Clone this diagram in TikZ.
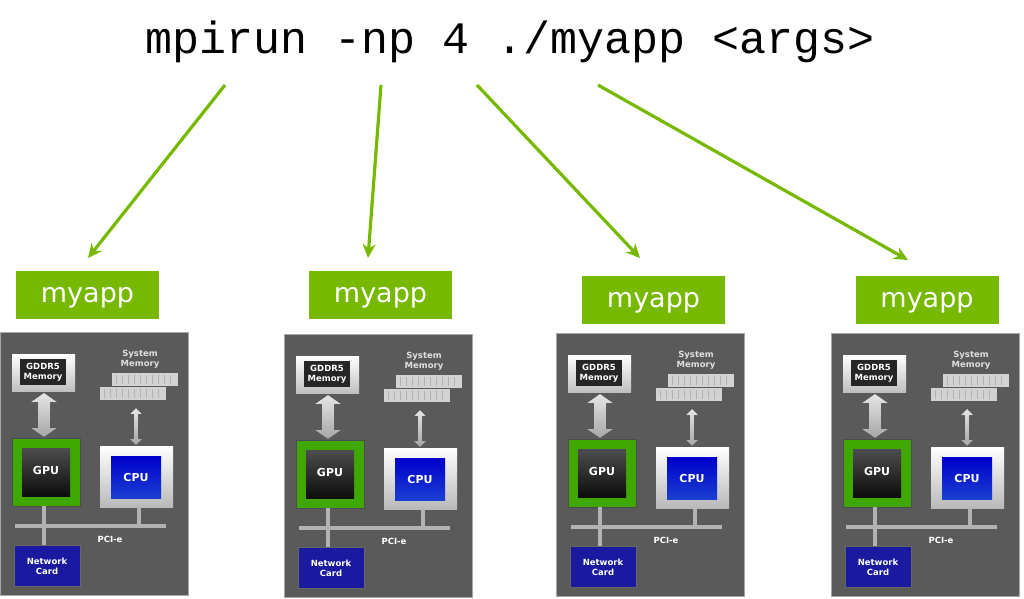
\documentclass[tikz,border=0pt]{standalone}
\usepackage{fontspec}
\setmainfont{DejaVu Sans}
\newfontfamily\monof{Liberation Mono}
\usetikzlibrary{arrows.meta}
\definecolor{nv}{HTML}{76B900}
\definecolor{gpugreen}{HTML}{3FA800}
\definecolor{panel}{HTML}{5A5A5A}
\definecolor{cpublue}{HTML}{1A3FD0}
\definecolor{nicblue}{HTML}{1A1AA0}
\tikzset{
  lbl/.style={fill=nv,text=white,minimum width=143pt,minimum height=48pt,inner sep=0pt,text depth=0pt,font=\fontsize{27}{27}\selectfont},
  conn/.style={draw=nv,line width=3.2pt,-{Stealth[length=14pt,width=13pt]}},
  tiny/.style={text=white,font=\bfseries\fontsize{8.5}{10}\selectfont,align=center,inner sep=0pt},
  bus/.style={draw=gray!60,line width=3.5pt},
  dbl/.style={top color=gray!20,bottom color=gray!70,draw=none},
  pics/machine/.style={code={
    \fill[panel] (0,0) rectangle (188,263);
    \draw[gray!70,line width=0.6pt] (0,0) rectangle (188,263);
    % GDDR5
    \fill[top color=white,bottom color=gray!50] (12,22) rectangle (75,59);
    \fill[black!85] (20,27) rectangle (66,53);
    \node[tiny] at (43,40) {GDDR5\\Memory};
    % big double arrow
    \fill[dbl] (44,61) -- (57,70) -- (50,70) -- (50,96) -- (57,96) -- (44,105) -- (31,96) -- (38,96) -- (38,70) -- (31,70) -- cycle;
    % GPU
    \fill[gpugreen] (12,106) rectangle (80,174);
    \draw[black!70] (12,106) rectangle (80,174);
    \fill[top color=black!70,bottom color=black!95] (22,116) rectangle (70,164);
    \node[tiny,font=\bfseries\fontsize{11}{11}\selectfont] at (46,138) {GPU};
    % System memory
    \node[tiny,text=gray!25] at (140,27) {System\\Memory};
    \foreach \dx/\dy in {12/0,0/14} {
      \fill[gray!35] (100+\dx,41+\dy) rectangle (166+\dx,54+\dy);
      \foreach \k in {0,...,9} \draw[gray!60,line width=0.6pt] (104+\dx+6*\k,43+\dy) -- (104+\dx+6*\k,52+\dy);
    }
    % small arrow
    \fill[dbl] (136,76) -- (142,82) -- (138,82) -- (138,107) -- (142,107) -- (136,113) -- (130,107) -- (134,107) -- (134,82) -- (130,82) -- cycle;
    % CPU
    \fill[top color=white,bottom color=gray!55] (100,114) rectangle (173,175);
    \fill[top color=blue!80!black,bottom color=cpublue] (111,124) rectangle (161,166);
    \node[tiny,font=\bfseries\fontsize{11}{11}\selectfont] at (136,145) {CPU};
    % buses
    \draw[bus] (15,194) -- (166,194);
    \draw[bus] (44,174) -- (44,213);
    \draw[bus] (139,175) -- (139,194);
    \node[tiny] at (110,207) {PCI-e};
    % NIC
    \fill[nicblue] (14,213) rectangle (80,254);
    \draw[black!60] (14,213) rectangle (80,254);
    \node[tiny] at (47,234) {Network\\Card};
  }}
}
\begin{document}
\begin{tikzpicture}[x=1pt,y=-1pt]
\useasboundingbox (0,0) rectangle (1024,598);
\node[font=\monof\fontsize{45}{45}\selectfont,inner sep=0pt] (title) at (510,42) {mpirun -np 4 ./myapp <args>};
\node[lbl] (L1) at (87.5,295) {myapp};
\node[lbl] (L2) at (380.5,294.5) {myapp};
\node[lbl] (L3) at (653.5,299.5) {myapp};
\node[lbl] (L4) at (927,299.5) {myapp};
\pic at (0,332) {machine};
\pic at (284,334) {machine};
\pic at (556,333) {machine};
\pic at (831,333) {machine};
\coordinate (s1) at (225,85); \coordinate (e1) at (88,258);
\coordinate (s2) at (381,85); \coordinate (e2) at (368,258);
\coordinate (s3) at (477,85); \coordinate (e3) at (640,258);
\coordinate (s4) at (598,85); \coordinate (e4) at (908,260);
\draw[conn] (s1) -- (e1);
\draw[conn] (s2) -- (e2);
\draw[conn] (s3) -- (e3);
\draw[conn] (s4) -- (e4);
\end{tikzpicture}
\end{document}
